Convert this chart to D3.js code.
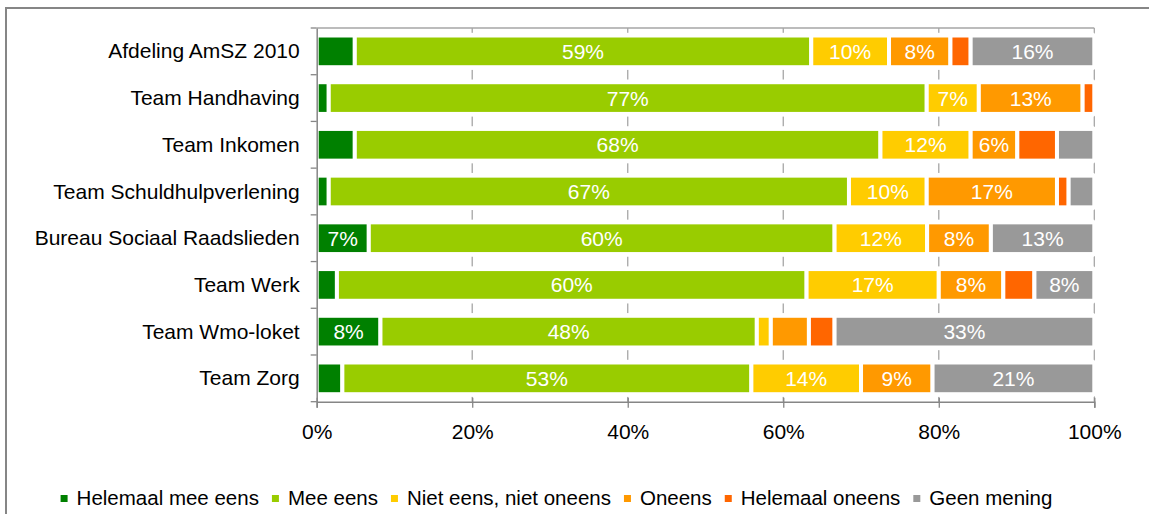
<!DOCTYPE html>
<html>
<head>
<meta charset="utf-8">
<script src="https://cdn.jsdelivr.net/npm/d3@7"></script>
<style>
  html, body { margin: 0; padding: 0; background: #fff; }
  svg { display: block; font-family: "Liberation Sans", Arial, Helvetica, sans-serif; }
</style>
</head>
<body>
<svg id="chart" width="1149" height="514"></svg>
<script>
// Teams (top to bottom)
const categories = [
  "Afdeling AmSZ 2010",
  "Team Handhaving",
  "Team Inkomen",
  "Team Schuldhulpverlening",
  "Bureau Sociaal Raadslieden",
  "Team Werk",
  "Team Wmo-loket",
  "Team Zorg"
];

// Answer shares per team, in percent
const helemaalMeeEens = [4.9, 1.55, 4.9, 1.55, 6.7, 2.6, 8.2, 3.3];
const meeEens         = [58.7, 76.9, 67.6, 66.9, 59.9, 60.4, 48.4, 52.6];
const nietEensNiet    = [10.0, 6.7, 11.6, 10.0, 11.9, 17.0, 1.8, 14.1];
const oneens          = [7.9, 13.35, 6.0, 16.75, 8.2, 8.3, 4.9, 9.2];
const helemaalOneens  = [2.6, 1.5, 5.1, 1.5, 0, 4.0, 3.3, 0];
const geenMening      = [15.9, 0, 4.8, 3.3, 13.3, 7.7, 33.4, 20.8];

const seriesNames = ["Helemaal mee eens", "Mee eens", "Niet eens, niet oneens", "Oneens", "Helemaal oneens", "Geen mening"];
const seriesValues = [helemaalMeeEens, meeEens, nietEensNiet, oneens, helemaalOneens, geenMening];
const seriesColors = ["#008000", "#99cc00", "#ffcc00", "#ff9900", "#ff6600", "#999999"];

const xTicks = [0, 20, 40, 60, 80, 100];

// Rows for d3.stack
const rows = categories.map((c, i) => {
  const r = { category: c };
  seriesNames.forEach((s, j) => { r[s] = seriesValues[j][i]; });
  return r;
});
const stacked = d3.stack().keys(seriesNames)(rows);

const svg = d3.select("#chart");
const axisColor = "#868686";

// outer chart frame
svg.append("rect")
  .attr("x", 6).attr("y", 8)
  .attr("width", 1170).attr("height", 530)
  .attr("fill", "#fff")
  .attr("stroke", axisColor).attr("stroke-width", 2);

const plotLeft = 316.7, plotRight = 1094.3, plotTop = 28, plotBottom = 401.7;

const x = d3.scaleLinear().domain([0, 100]).range([plotLeft, plotRight]);
const y = d3.scaleBand().domain(categories).range([plotTop, plotBottom]).paddingInner(0).paddingOuter(0);

const fillH = y.bandwidth() * 0.593;   // visible bar thickness
const halo = 4.7;                      // white space kept around bars

// gridlines
svg.append("g").selectAll("line")
  .data(xTicks.filter(d => d > 0))
  .join("line")
  .attr("x1", d => x(d)).attr("x2", d => x(d))
  .attr("y1", plotTop).attr("y2", plotBottom)
  .attr("stroke", "#a6a6a6").attr("stroke-width", 1.3);

// top edge of the plot area
svg.append("line")
  .attr("x1", plotLeft).attr("x2", plotRight)
  .attr("y1", plotTop).attr("y2", plotTop)
  .attr("stroke", "#a6a6a6").attr("stroke-width", 1.3);

// white band behind each bar hides the gridlines there
svg.append("g").selectAll("rect")
  .data(categories)
  .join("rect")
  .attr("x", plotLeft + 1).attr("width", plotRight - plotLeft - 1)
  .attr("y", d => y(d) + y.bandwidth() / 2 - fillH / 2 - halo)
  .attr("height", fillH + 2 * halo)
  .attr("fill", "#fff");

// bar segments
const seg = svg.append("g").selectAll("g")
  .data(stacked)
  .join("g")
  .attr("fill", (d, i) => seriesColors[i]);

seg.selectAll("rect")
  .data(d => d.filter(p => p[1] - p[0] > 0))
  .join("rect")
  .attr("x", d => x(d[0]))
  .attr("width", d => x(d[1]) - x(d[0]))
  .attr("y", d => y(d.data.category) + y.bandwidth() / 2 - fillH / 2 - 2)
  .attr("height", fillH + 4)
  .attr("stroke", "#fff").attr("stroke-width", 4);

// value labels
const labels = [];
stacked.forEach(s => s.forEach(p => {
  const v = p[1] - p[0];
  if (v >= 5.5) labels.push({ cx: (x(p[0]) + x(p[1])) / 2, cy: y(p.data.category) + y.bandwidth() / 2, v });
}));
svg.append("g").selectAll("text")
  .data(labels)
  .join("text")
  .attr("x", d => d.cx).attr("y", d => d.cy)
  .attr("dy", "0.36em")
  .attr("text-anchor", "middle")
  .attr("fill", "#fff")
  .attr("font-size", 21)
  .text(d => Math.round(d.v) + "%");

// x axis
const xAxis = svg.append("g")
  .attr("transform", `translate(0,${plotBottom})`)
  .call(d3.axisBottom(x).tickValues(xTicks).tickFormat(d => d + "%").tickSize(6).tickPadding(16.6));
xAxis.attr("font-family", null);
xAxis.select(".domain").attr("stroke", axisColor).attr("stroke-width", 1.5);
xAxis.selectAll(".tick line").attr("stroke", axisColor).attr("stroke-width", 1.3).attr("y1", -4);
xAxis.selectAll(".tick text").attr("font-size", 21).attr("fill", "#000");

// y axis
const yAxis = svg.append("g")
  .attr("transform", `translate(${plotLeft},0)`)
  .call(d3.axisLeft(y).tickSize(0).tickPadding(17));
yAxis.attr("font-family", null);
yAxis.select(".domain").attr("stroke", axisColor).attr("stroke-width", 1.5);
yAxis.selectAll(".tick text").attr("font-size", 21).attr("fill", "#000").attr("dy", "0.34em");

// category boundary ticks
const bounds = categories.map(c => y(c)).concat([plotBottom]);
svg.append("g").selectAll("line")
  .data(bounds)
  .join("line")
  .attr("x1", plotLeft - 6).attr("x2", plotLeft)
  .attr("y1", d => d).attr("y2", d => d)
  .attr("stroke", axisColor).attr("stroke-width", 1.3);

// legend
const legend = svg.append("g");
let cursor = 0;
seriesNames.forEach((name, i) => {
  legend.append("rect")
    .attr("x", cursor).attr("y", 495)
    .attr("width", 7).attr("height", 7)
    .attr("fill", seriesColors[i]);
  const t = legend.append("text")
    .attr("x", cursor + 16).attr("y", 504.5)
    .attr("font-size", 20.5)
    .attr("fill", "#000")
    .text(name);
  cursor += 16 + t.node().getComputedTextLength() + 13;
});
const legendWidth = cursor - 13;
legend.attr("transform", `translate(${556.5 - legendWidth / 2},0)`);
</script>
</body>
</html>
